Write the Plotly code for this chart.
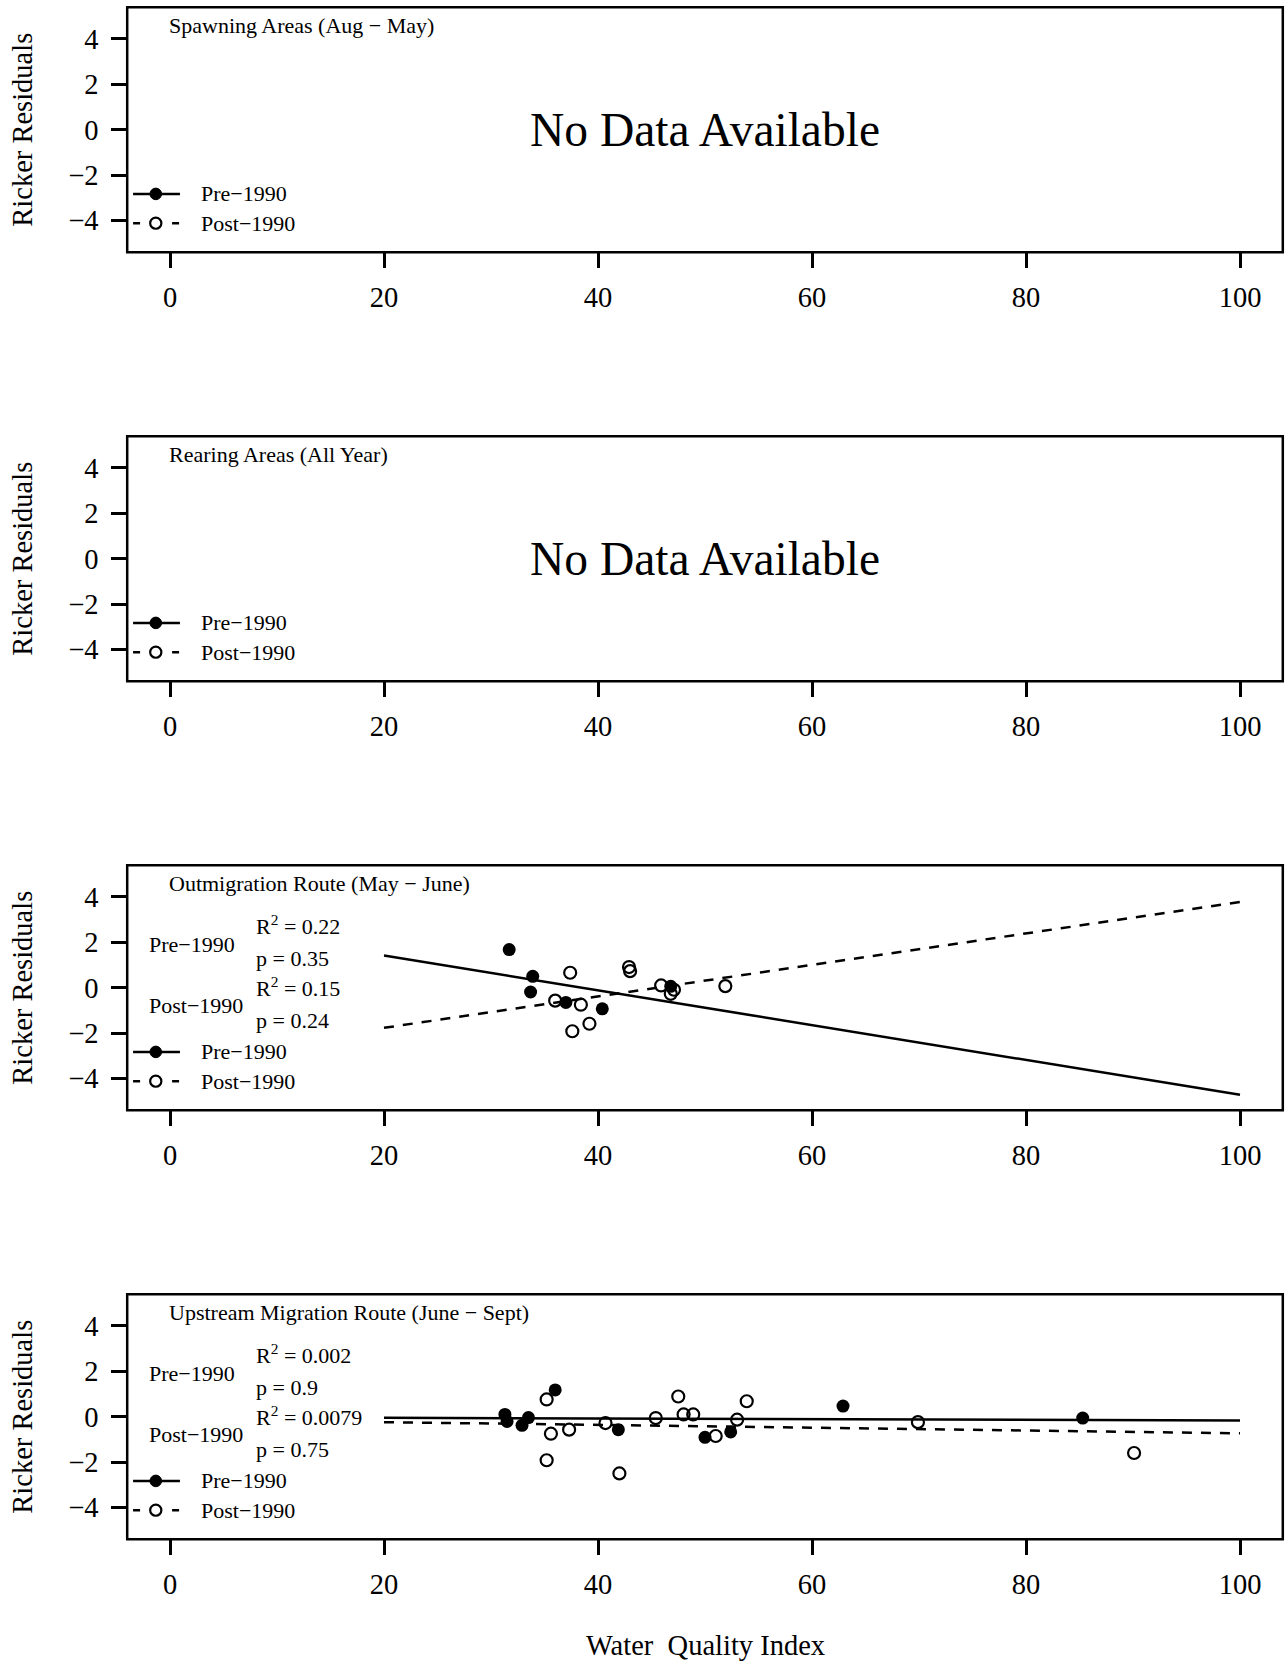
import plotly.graph_objects as go

FONT = "Liberation Serif, Times New Roman, Times, serif"
W, H = 1287, 1661
MINUS = "\u2212"

# ---- text ------------------------------------------------------------------
panel_titles = [
    f"Spawning Areas (Aug {MINUS} May)",
    "Rearing Areas (All Year)",
    f"Outmigration Route (May {MINUS} June)",
    f"Upstream Migration Route (June {MINUS} Sept)",
]
group_names = [f"Pre{MINUS}1990", f"Post{MINUS}1990"]
y_title = "Ricker Residuals"
x_title = "Water\u00a0 Quality Index"
no_data_text = "No Data Available"

# ---- axes ------------------------------------------------------------------
x_ticks = [0, 20, 40, 60, 80, 100]
x_tick_text = ["0", "20", "40", "60", "80", "100"]
y_ticks = [-4, -2, 0, 2, 4]
y_tick_text = [f"{MINUS}4", f"{MINUS}2", "0", "2", "4"]
x_range = [-4, 104]
y_range = [-5.4, 5.4]

# ---- Outmigration Route (May - June) ---------------------------------------
out_pre_wqi = [31.7, 33.9, 33.7, 37.0, 40.4, 46.8]
out_pre_resid = [1.68, 0.50, -0.19, -0.65, -0.93, 0.06]
out_post_wqi = [37.4, 36.0, 38.4, 37.6, 39.2, 42.9, 43.0, 45.9, 46.8, 47.1, 51.9]
out_post_resid = [0.66, -0.57, -0.75, -1.92, -1.59, 0.91, 0.73, 0.10, -0.27, -0.09, 0.07]
out_r2 = ["0.22", "0.15"]
out_p = ["0.35", "0.24"]
out_fit_intercept = [2.955, -3.1575]
out_fit_slope = [-0.07675, 0.069375]

# ---- Upstream Migration Route (June - Sept) --------------------------------
up_pre_wqi = [31.3, 31.5, 32.9, 33.5, 36.0, 41.9, 50.0, 52.4, 62.9, 85.3]
up_pre_resid = [0.10, -0.21, -0.38, -0.04, 1.18, -0.57, -0.91, -0.67, 0.47, -0.06]
up_post_wqi = [35.2, 35.6, 35.2, 37.3, 40.7, 42.0, 45.4, 47.5, 48.0, 48.9,
               51.0, 53.0, 53.9, 69.9, 90.1]
up_post_resid = [0.76, -0.75, -1.92, -0.57, -0.28, -2.50, -0.06, 0.89, 0.10, 0.10,
                 -0.85, -0.13, 0.68, -0.24, -1.60]
up_r2 = ["0.002", "0.0079"]
up_p = ["0.9", "0.75"]
up_fit_intercept = [-0.02, -0.1175]
up_fit_slope = [-0.0015, -0.006125]

fit_range = [20, 100]

# ---- page geometry (pixels) ------------------------------------------------
box_left, box_right = 127.2, 1282.8
panel_tops = [7.2, 436.2, 865.2, 1294.2]
panel_h = 245.0

LW = 2.5
BASE = 28.5      # axis labels / titles
SMALL = 22       # panel titles, legends, statistics
fig = go.Figure()

panels = [
    None,
    None,
    dict(pre=(out_pre_wqi, out_pre_resid), post=(out_post_wqi, out_post_resid),
         r2=out_r2, p=out_p, b0=out_fit_intercept, b1=out_fit_slope),
    dict(pre=(up_pre_wqi, up_pre_resid), post=(up_post_wqi, up_post_resid),
         r2=up_r2, p=up_p, b0=up_fit_intercept, b1=up_fit_slope),
]

annotations = []
shapes = []


def label(x, y, xa, ya, text, size=SMALL, **kw):
    d = dict(x=x, y=y, xref=xa, yref=ya, text=text, showarrow=False,
             xanchor="left", yanchor="middle", borderpad=0, borderwidth=0,
             font=dict(family=FONT, size=size, color="black"))
    d.update(kw)
    return d


for i, top in enumerate(panel_tops):
    n = i + 1
    sfx = "" if n == 1 else str(n)
    xa, ya = f"x{sfx}", f"y{sfx}"
    bottom = top + panel_h
    ydom = [1 - bottom / H, 1 - top / H]
    xdom = [box_left / W, box_right / W]

    common = dict(showline=False, ticks="outside", ticklen=15, tickwidth=LW,
                  tickcolor="black", showgrid=False, zeroline=False,
                  tickfont=dict(family=FONT, size=BASE, color="black"))
    fig.update_layout(**{
        f"xaxis{sfx}": dict(domain=xdom, anchor=ya, range=x_range,
                            tickvals=x_ticks, ticktext=x_tick_text,
                            ticklabelstandoff=5, **common),
        f"yaxis{sfx}": dict(domain=ydom, anchor=xa, range=y_range,
                            tickvals=y_ticks, ticktext=y_tick_text,
                            ticklabelstandoff=7, **common),
    })

    # frame around the plotting region
    shapes.append(dict(type="rect", xref=f"{xa} domain", yref=f"{ya} domain",
                       x0=0, x1=1, y0=0, y1=1, line=dict(color="black", width=LW),
                       fillcolor="rgba(0,0,0,0)", layer="above"))

    # y-axis title
    annotations.append(label(23 / W, 1 - (top + panel_h / 2) / H, "paper", "paper",
                             y_title, size=BASE, textangle=-90,
                             xanchor="center", yanchor="middle"))
    # panel title
    annotations.append(label(-0.05, 4.6, xa, ya, panel_titles[i]))

    # legend (bottom-left)
    leg_rows = [-2.83, -4.12]
    leg_x0, leg_x1, leg_pt, leg_txt = -3.45, 0.93, -1.33, 2.9
    shapes.append(dict(type="line", xref=xa, yref=ya, x0=leg_x0, x1=leg_x1,
                       y0=leg_rows[0], y1=leg_rows[0], line=dict(color="black", width=LW)))
    shapes.append(dict(type="line", xref=xa, yref=ya, x0=leg_x0, x1=leg_x1,
                       y0=leg_rows[1], y1=leg_rows[1],
                       line=dict(color="black", width=LW, dash="7px,32px")))
    shapes.append(dict(type="circle", xref=xa, yref=ya, xsizemode="pixel", ysizemode="pixel",
                       xanchor=leg_pt, yanchor=leg_rows[0], x0=-5.8, x1=5.8, y0=-5.8, y1=5.8,
                       fillcolor="black", line=dict(color="black", width=1)))
    shapes.append(dict(type="circle", xref=xa, yref=ya, xsizemode="pixel", ysizemode="pixel",
                       xanchor=leg_pt, yanchor=leg_rows[1], x0=-5.6, x1=5.6, y0=-5.6, y1=5.6,
                       fillcolor="white", line=dict(color="black", width=2.2)))
    for name, ry in zip(group_names, leg_rows):
        annotations.append(label(leg_txt, ry, xa, ya, name))

    pdata = panels[i]
    if pdata is None:
        annotations.append(label(50, 0, xa, ya, no_data_text, size=47.5, xanchor="center"))
        continue

    # fitted regression lines
    for k, dash in enumerate(["solid", "10px,9px"]):
        fy = [pdata["b0"][k] + pdata["b1"][k] * xv for xv in fit_range]
        fig.add_trace(go.Scatter(x=fit_range, y=fy, mode="lines", xaxis=xa, yaxis=ya,
                                 line=dict(color="black", width=LW, dash=dash),
                                 showlegend=False, hoverinfo="skip"))
    # points
    fig.add_trace(go.Scatter(x=pdata["pre"][0], y=pdata["pre"][1], mode="markers",
                             xaxis=xa, yaxis=ya, name=group_names[0], showlegend=False,
                             marker=dict(symbol="circle", size=13, color="black",
                                         line=dict(width=0))))
    fig.add_trace(go.Scatter(x=pdata["post"][0], y=pdata["post"][1], mode="markers",
                             xaxis=xa, yaxis=ya, name=group_names[1], showlegend=False,
                             marker=dict(symbol="circle-open", size=12, color="black",
                                         line=dict(width=2.2))))

    # regression statistics
    stat_rows = [(2.55, 1.28), (-0.2, -1.46)]
    label_rows = [1.92, -0.77]
    for k in range(2):
        annotations.append(label(-2.0, label_rows[k], xa, ya, group_names[k]))
        annotations.append(label(8.0, stat_rows[k][0], xa, ya,
                                 f"R<sup>2</sup> = {pdata['r2'][k]}", yshift=5))
        annotations.append(label(8.0, stat_rows[k][1], xa, ya, f"p = {pdata['p'][k]}"))

# x-axis title
annotations.append(label((box_left + box_right) / 2 / W, 1 - 1645 / H, "paper", "paper",
                         x_title, size=BASE, xanchor="center"))

fig.update_layout(width=W, height=H, margin=dict(l=0, r=0, t=0, b=0),
                  paper_bgcolor="white", plot_bgcolor="white",
                  showlegend=False, annotations=annotations, shapes=shapes)

fig.write_html("out.html")
